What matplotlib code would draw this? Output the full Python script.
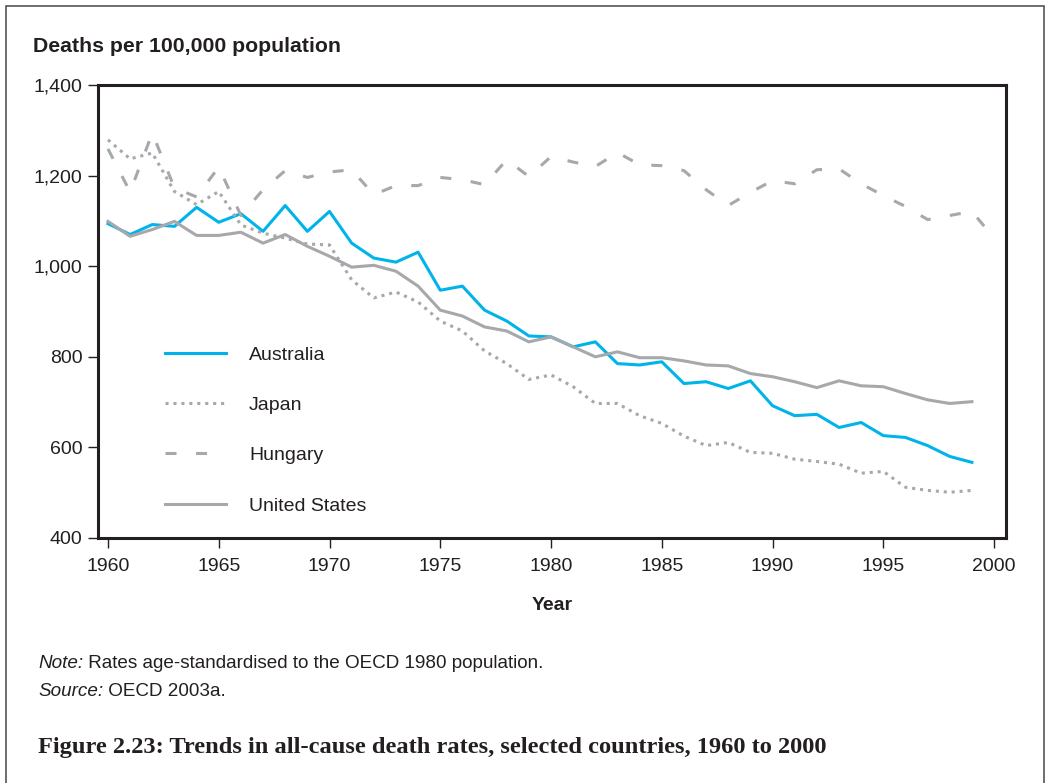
import matplotlib
matplotlib.use('Agg')
import matplotlib.pyplot as plt
from matplotlib.patches import Rectangle
from matplotlib.text import Annotation
from matplotlib.ticker import FuncFormatter

plt.rcParams['font.family'] = ['Liberation Sans', 'DejaVu Sans']

# Deaths per 100,000 population
years = list(range(1960, 2000))
years_hungary = list(range(1960, 2001))

australia = [1094, 1070, 1092, 1088, 1130, 1097, 1116, 1077, 1134, 1077,
             1121, 1051, 1018, 1009, 1031, 947, 956, 903, 879, 846,
             844, 822, 833, 785, 782, 789, 741, 745, 730, 747,
             692, 670, 673, 644, 655, 626, 622, 604, 580, 567]
japan = [1279, 1237, 1250, 1165, 1136, 1165, 1091, 1073, 1062, 1049,
         1047, 970, 930, 943, 921, 879, 857, 813, 785, 750,
         760, 734, 697, 697, 670, 653, 625, 604, 611, 589,
         587, 574, 569, 563, 543, 547, 512, 505, 501, 505]
hungary = [1259, 1164, 1294, 1173, 1153, 1219, 1112, 1169, 1211, 1196,
           1208, 1213, 1158, 1178, 1178, 1196, 1191, 1180, 1235, 1198,
           1242, 1230, 1220, 1251, 1224, 1222, 1211, 1169, 1134, 1163,
           1189, 1182, 1213, 1215, 1182, 1156, 1132, 1103, 1112, 1121,
           1062]
united_states = [1099, 1066, 1081, 1099, 1068, 1068, 1075, 1051, 1070, 1044,
                 1022, 998, 1002, 989, 956, 903, 890, 866, 857, 833,
                 844, 822, 800, 811, 798, 798, 791, 782, 780, 763,
                 756, 745, 732, 747, 736, 734, 719, 705, 697, 701]

x_ticks = [1960, 1965, 1970, 1975, 1980, 1985, 1990, 1995, 2000]
y_ticks = [400, 600, 800, 1000, 1200, 1400]

BLUE = '#00b4ea'
GREY = '#a7a8ab'
INK = '#231f20'

fig = plt.figure(figsize=(10.46, 7.83), dpi=100)
ax = fig.add_axes([0.0937, 0.3129, 0.8681, 0.5785])

lw = 2.2
ax.plot(years, australia, color=BLUE, lw=lw, label='Australia')
ax.plot(years, japan, color=GREY, lw=lw, linestyle=(0, (1, 1.6)), label='Japan')
ax.plot(years_hungary, hungary, color=GREY, lw=lw, linestyle=(0, (3.6, 6.4)), label='Hungary')
ax.plot(years, united_states, color=GREY, lw=lw, label='United States')

ax.set_xlim(1959.55, 2000.54)
ax.set_ylim(400, 1400)
ax.set_xticks(x_ticks)
ax.set_yticks(y_ticks)
ax.yaxis.set_major_formatter(FuncFormatter(lambda v, p: f'{int(v):,}'))
ax.tick_params(axis='both', labelsize=14, colors=INK, width=1, length=7)
ax.tick_params(axis='y', pad=4)
ax.tick_params(axis='x', pad=7.5)
for s in ax.spines.values():
    s.set_linewidth(2.2)
    s.set_color(INK)

ax.set_xlabel('Year', fontsize=14, fontweight='bold', color=INK, labelpad=16)

leg = ax.legend(loc='upper left', bbox_to_anchor=(0.158, 0.558),
                bbox_transform=fig.transFigure, frameon=False, fontsize=14,
                handlelength=3.1, handletextpad=1.2, labelspacing=1.68,
                borderpad=0, borderaxespad=0)
for t in leg.get_texts():
    t.set_color(INK)

fig.text(0.0316, 0.94, 'Deaths per 100,000 population', fontsize=15.3,
         fontweight='bold', color=INK, va='center')

# italic lead word followed by plain text
note_lead = fig.text(0.0363, 0.1465, 'Note:', fontsize=13.6, style='italic',
                     color=INK, va='baseline')
fig.add_artist(Annotation(' Rates age-standardised to the OECD 1980 population.',
                          xy=(1, 0), xycoords=note_lead, fontsize=13.6,
                          color=INK, va='bottom'))
src_lead = fig.text(0.0363, 0.1115, 'Source:', fontsize=13.6, style='italic',
                    color=INK, va='baseline')
fig.add_artist(Annotation(' OECD 2003a.', xy=(1, 0), xycoords=src_lead,
                          fontsize=13.6, color=INK, va='bottom'))

fig.text(0.0363, 0.045, 'Figure 2.23: Trends in all-cause death rates, selected countries, 1960 to 2000',
         fontsize=17.6, fontweight='bold', color=INK, va='center',
         family=['Liberation Serif', 'DejaVu Serif'])

# thin frame around the whole figure panel
fig.patches.append(Rectangle((6 / 1046, -0.05), 1038 / 1046, 1 - 6 / 783 + 0.05,
                             transform=fig.transFigure, fill=False,
                             edgecolor='#555555', lw=1.2, clip_on=False))

fig.savefig('out.png', dpi=100)
